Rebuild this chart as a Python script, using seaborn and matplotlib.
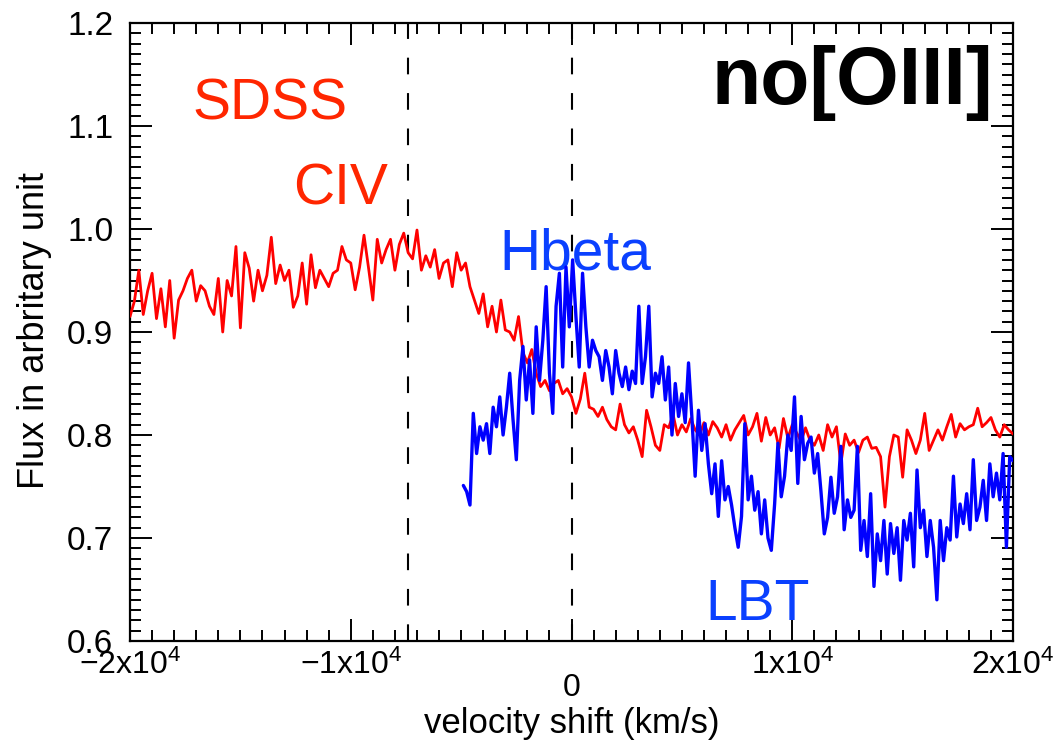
import numpy as np
import pandas as pd
import matplotlib
matplotlib.use("Agg")
import matplotlib.pyplot as plt
import matplotlib.ticker as mticker
import matplotlib.transforms as mtransforms
import seaborn as sns

# ---------------- data ----------------
red_v0, red_dv = -20000, 200      # SDSS CIV velocity grid (km/s)
red_flux = [
    0.915, 0.93, 0.960, 0.917, 0.94, 0.957, 0.913, 0.942, 0.905, 0.95,
    0.894, 0.931, 0.94, 0.952, 0.96, 0.93, 0.945, 0.94, 0.925, 0.917,
    0.952, 0.90, 0.95, 0.935, 0.983, 0.904, 0.977, 0.962, 0.93, 0.96,
    0.94, 0.955, 0.992, 0.947, 0.965, 0.95, 0.96, 0.924, 0.935, 0.967,
    0.927, 0.975, 0.943, 0.96, 0.952, 0.944, 0.957, 0.96, 0.983, 0.97,
    0.967, 0.941, 0.963, 0.994, 0.963, 0.931, 0.99, 0.967, 0.98, 0.99,
    0.96, 0.985, 0.996, 0.977, 0.971, 0.999, 0.96, 0.974, 0.963, 0.98,
    0.952, 0.967, 0.97, 0.944, 0.977, 0.96, 0.967, 0.944, 0.931, 0.918,
    0.937, 0.905, 0.925, 0.90, 0.931, 0.902, 0.90, 0.892, 0.915, 0.88,
    0.870, 0.883, 0.86, 0.847, 0.853, 0.843, 0.85, 0.853, 0.84, 0.845,
    0.837, 0.821, 0.835, 0.86, 0.827, 0.825, 0.818, 0.827, 0.815, 0.808,
    0.805, 0.83, 0.81, 0.802, 0.808, 0.795, 0.779, 0.824, 0.808, 0.79,
    0.785, 0.81, 0.807, 0.82, 0.80, 0.81, 0.803, 0.816, 0.805, 0.80,
    0.812, 0.80, 0.813, 0.807, 0.798, 0.81, 0.795, 0.805, 0.812, 0.819,
    0.80, 0.808, 0.821, 0.794, 0.817, 0.80, 0.807, 0.787, 0.816, 0.797,
    0.81, 0.802, 0.794, 0.807, 0.795, 0.79, 0.80, 0.785, 0.81, 0.798,
    0.808, 0.772, 0.801, 0.79, 0.795, 0.783, 0.795, 0.798, 0.787, 0.788,
    0.779, 0.730, 0.779, 0.80, 0.798, 0.759, 0.805, 0.795, 0.782, 0.795,
    0.821, 0.785, 0.795, 0.805, 0.795, 0.808, 0.82, 0.798, 0.811, 0.805,
    0.808, 0.81, 0.826, 0.808, 0.812, 0.817, 0.805, 0.798, 0.81, 0.805,
    0.801,
]

blue_v0, blue_dv = -4900, 150     # LBT Hbeta velocity grid (km/s)
blue_flux = [
    0.751, 0.745, 0.732, 0.821, 0.782, 0.808, 0.795, 0.811, 0.782, 0.827,
    0.808, 0.837, 0.80, 0.827, 0.86, 0.815, 0.776, 0.853, 0.886, 0.834,
    0.873, 0.821, 0.905, 0.853, 0.892, 0.944, 0.86, 0.821, 0.925, 0.957,
    0.866, 0.963, 0.905, 0.970, 0.915, 0.866, 0.957, 0.905, 0.866, 0.892,
    0.882, 0.876, 0.853, 0.882, 0.866, 0.84, 0.882, 0.86, 0.847, 0.866,
    0.844, 0.862, 0.85, 0.925, 0.85, 0.876, 0.925, 0.837, 0.86, 0.85,
    0.876, 0.834, 0.866, 0.80, 0.85, 0.818, 0.84, 0.812, 0.87, 0.818,
    0.76, 0.824, 0.785, 0.811, 0.772, 0.743, 0.772, 0.721, 0.775, 0.737,
    0.75, 0.732, 0.71, 0.691, 0.721, 0.811, 0.737, 0.76, 0.727, 0.745,
    0.704, 0.737, 0.70, 0.688, 0.733, 0.792, 0.74, 0.76, 0.80, 0.785,
    0.837, 0.753, 0.818, 0.776, 0.792, 0.798, 0.763, 0.782, 0.745, 0.704,
    0.72, 0.759, 0.724, 0.74, 0.789, 0.708, 0.737, 0.72, 0.727, 0.789,
    0.688, 0.717, 0.682, 0.743, 0.653, 0.704, 0.678, 0.717, 0.665, 0.714,
    0.685, 0.71, 0.659, 0.717, 0.698, 0.724, 0.672, 0.766, 0.71, 0.727,
    0.682, 0.717, 0.691, 0.64, 0.717, 0.678, 0.71, 0.698, 0.76, 0.701,
    0.733, 0.714, 0.743, 0.708, 0.776, 0.717, 0.73, 0.756, 0.717, 0.772,
    0.74, 0.763, 0.737, 0.782, 0.691, 0.779, 0.775,
]

dash_positions = [-7400, 0]
xticks = [-20000, -10000, 0, 10000, 20000]
xtick_labels = ["\u22122x10$^{4}$", "\u22121x10$^{4}$", "0", "1x10$^{4}$", "2x10$^{4}$"]
yticks = [0.6, 0.7, 0.8, 0.9, 1.0, 1.1, 1.2]
ytick_labels = ["0.6", "0.7", "0.8", "0.9", "1.0", "1.1", "1.2"]

red_v = red_v0 + red_dv * np.arange(len(red_flux))
blue_v = blue_v0 + blue_dv * np.arange(len(blue_flux))
df_red = pd.DataFrame({"v": red_v, "flux": red_flux})
df_blue = pd.DataFrame({"v": blue_v, "flux": blue_flux})

# ---------------- style ----------------
sns.set_theme(style="ticks")
plt.rcParams["font.family"] = ["Liberation Sans", "DejaVu Sans"]
plt.rcParams["mathtext.fontset"] = "custom"
plt.rcParams["mathtext.rm"] = "Liberation Sans"
plt.rcParams["mathtext.it"] = "Liberation Sans"
plt.rcParams["axes.unicode_minus"] = True

fig = plt.figure(figsize=(10.63, 7.47), dpi=100)
ax = fig.add_axes([0.1223, 0.1419, 0.8307, 0.8273])

sns.lineplot(data=df_red, x="v", y="flux", ax=ax, color="#ff0000",
             linewidth=2.0, estimator=None, sort=False, zorder=3)
sns.lineplot(data=df_blue, x="v", y="flux", ax=ax, color="#0000ff",
             linewidth=2.4, estimator=None, sort=False, zorder=4)

for xp in dash_positions:
    ax.axvline(xp, color="black", linewidth=1.5, dashes=(8, 9), zorder=2)

ax.set_xlim(-20000, 20000)
ax.set_ylim(0.6, 1.2)

ax.set_xticks(xticks)
ax.set_xticklabels(xtick_labels)
ax.set_yticks(yticks)
ax.set_yticklabels(ytick_labels)
ax.xaxis.set_minor_locator(mticker.MultipleLocator(1000))
ax.yaxis.set_minor_locator(mticker.MultipleLocator(0.01))

ax.tick_params(which="both", direction="in", top=True, right=True,
               width=1.4, color="black", labelcolor="black")
ax.tick_params(which="major", length=16)
ax.tick_params(which="minor", length=8)
ax.tick_params(axis="x", which="major", labelsize=23, pad=6)
ax.tick_params(axis="y", which="major", labelsize=24, pad=12)

# the "0" label sits lower than the exponent labels in the reference
zero_lbl = ax.get_xticklabels()[2]
zero_lbl.set_transform(zero_lbl.get_transform() +
                       mtransforms.ScaledTranslation(0, -0.24, fig.dpi_scale_trans))

for sp in ax.spines.values():
    sp.set_linewidth(1.6)
    sp.set_color("black")

ax.set_xlabel("velocity shift (km/s)", fontsize=25, color="black")
ax.set_ylabel("Flux in arbritary unit", fontsize=26, color="black")
ax.xaxis.set_label_coords(0.5, -0.106)
ax.yaxis.set_label_coords(-0.088, 0.503)

# annotations
red_txt = "#ff2600"
blue_txt = "#0a40ff"
ax.text(-13635, 1.121, "SDSS", color=red_txt, fontsize=41, ha="center", va="center")
ax.text(-10464, 1.038, "CIV", color=red_txt, fontsize=41, ha="center", va="center")
ax.text(181, 0.975, "Hbeta", color=blue_txt, fontsize=41, ha="center", va="center")
ax.text(8426, 0.635, "LBT", color=blue_txt, fontsize=41, ha="center", va="center")
ax.text(12730, 1.142, "no[OIII]", color="black", fontsize=58, fontweight="bold",
        ha="center", va="center")

fig.savefig("out.png", dpi=100)
